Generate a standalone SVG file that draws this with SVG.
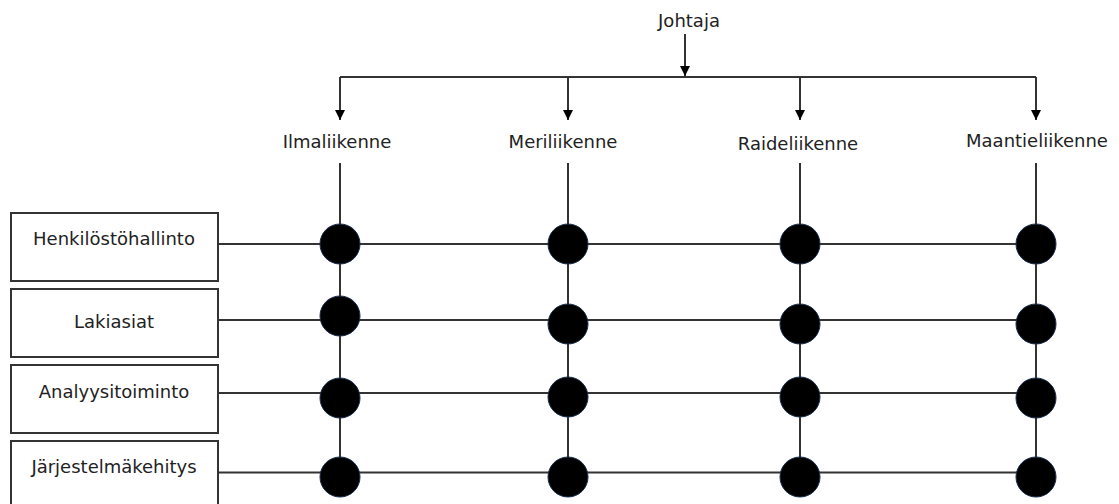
<svg xmlns="http://www.w3.org/2000/svg" width="1119" height="504" viewBox="0 0 1119 504">
<style>
text{font-family:"DejaVu Sans","Liberation Sans",sans-serif;font-size:18px;fill:#222;text-anchor:middle}
.ln{stroke:#333;stroke-width:2;fill:none}
.box{fill:#fff;stroke:#333;stroke-width:2}
.dot{fill:#000;stroke:#1a2f4d;stroke-width:1}
</style>
<defs>
<marker id="arr" markerWidth="10" markerHeight="10" refX="10" refY="5" orient="auto" markerUnits="userSpaceOnUse" viewBox="0 0 10 10">
<path d="M0,0 L10,5 L0,10 Z" fill="#000"/>
</marker>
</defs>
<rect width="1119" height="504" fill="#fff"/>
<g id="connectors">
<line class="ln" x1="685" y1="34" x2="685" y2="76" marker-end="url(#arr)"/>
<line class="ln" x1="340" y1="77" x2="1036" y2="77"/>
<line class="ln" x1="340" y1="77" x2="340" y2="120" marker-end="url(#arr)"/>
<line class="ln" x1="568" y1="77" x2="568" y2="120" marker-end="url(#arr)"/>
<line class="ln" x1="800" y1="77" x2="800" y2="120" marker-end="url(#arr)"/>
<line class="ln" x1="1036" y1="77" x2="1036" y2="120" marker-end="url(#arr)"/>
<line class="ln" x1="340" y1="163" x2="340" y2="477"/>
<line class="ln" x1="568" y1="163" x2="568" y2="477"/>
<line class="ln" x1="800" y1="163" x2="800" y2="477"/>
<line class="ln" x1="1036" y1="163" x2="1036" y2="477"/>
<line class="ln" x1="218" y1="244" x2="1036" y2="244"/>
<line class="ln" x1="218" y1="320" x2="1036" y2="320"/>
<line class="ln" x1="218" y1="393" x2="1036" y2="393"/>
<line class="ln" x1="218" y1="472.5" x2="1036" y2="472.5"/>
</g>
<g id="johtaja"><text x="689" y="27">Johtaja</text></g>
<g id="ilmaliikenne"><text x="337" y="148">Ilmaliikenne</text></g>
<g id="meriliikenne"><text x="563" y="148">Meriliikenne</text></g>
<g id="raideliikenne"><text x="798" y="150">Raideliikenne</text></g>
<g id="maantieliikenne"><text x="1037" y="147">Maantieliikenne</text></g>
<g id="henkilostohallinto"><rect class="box" x="11" y="213" width="207" height="68"/><text x="114" y="245">Henkilöstöhallinto</text></g>
<g id="lakiasiat"><rect class="box" x="11" y="289" width="207" height="68"/><text x="114" y="328">Lakiasiat</text></g>
<g id="analyysitoiminto"><rect class="box" x="11" y="365" width="207" height="68"/><text x="114" y="398">Analyysitoiminto</text></g>
<g id="jarjestelmakehitys"><rect class="box" x="11" y="441" width="207" height="70"/><text x="114" y="473">Järjestelmäkehitys</text></g>
<g id="dots">
<circle class="dot" cx="340" cy="244" r="20"/>
<circle class="dot" cx="340" cy="316" r="20"/>
<circle class="dot" cx="340" cy="398" r="20"/>
<circle class="dot" cx="340" cy="477" r="20"/>
<circle class="dot" cx="568" cy="244" r="20"/>
<circle class="dot" cx="568" cy="324" r="20"/>
<circle class="dot" cx="568" cy="397" r="20"/>
<circle class="dot" cx="568" cy="477" r="20"/>
<circle class="dot" cx="800" cy="244" r="20"/>
<circle class="dot" cx="800" cy="324" r="20"/>
<circle class="dot" cx="800" cy="397" r="20"/>
<circle class="dot" cx="800" cy="477" r="20"/>
<circle class="dot" cx="1036" cy="244" r="20"/>
<circle class="dot" cx="1036" cy="324" r="20"/>
<circle class="dot" cx="1036" cy="398" r="20"/>
<circle class="dot" cx="1036" cy="477" r="20"/>
</g>
</svg>
